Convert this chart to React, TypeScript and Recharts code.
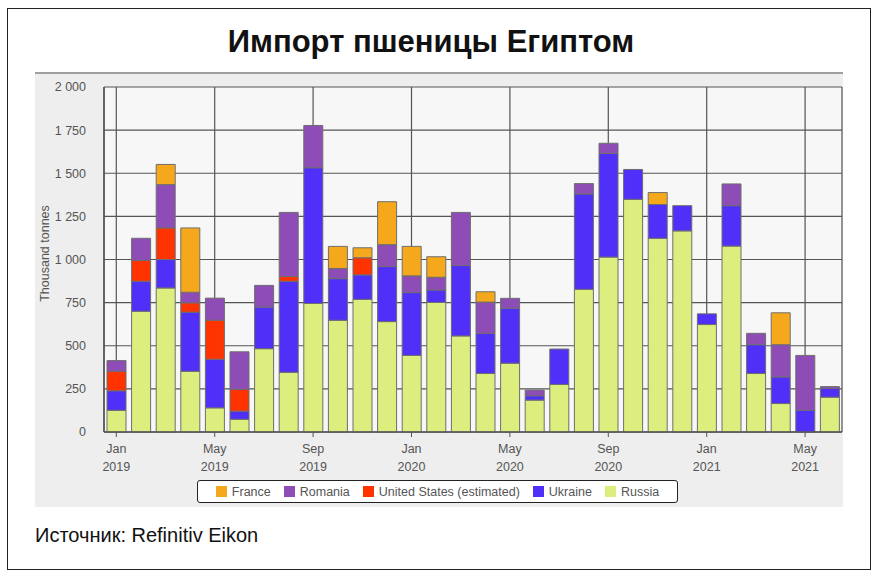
import { BarChart, Bar, XAxis, YAxis, CartesianGrid, Legend } from 'recharts';

const months = [
  'Jan 2019', 'Feb 2019', 'Mar 2019', 'Apr 2019', 'May 2019', 'Jun 2019',
  'Jul 2019', 'Aug 2019', 'Sep 2019', 'Oct 2019', 'Nov 2019', 'Dec 2019',
  'Jan 2020', 'Feb 2020', 'Mar 2020', 'Apr 2020', 'May 2020', 'Jun 2020',
  'Jul 2020', 'Aug 2020', 'Sep 2020', 'Oct 2020', 'Nov 2020', 'Dec 2020',
  'Jan 2021', 'Feb 2021', 'Mar 2021', 'Apr 2021', 'May 2021', 'Jun 2021',
];

const russia = [126, 700, 835, 352, 140, 74, 483, 346, 745, 648, 769, 640, 444, 751, 557, 339, 399, 185, 276, 827, 1014, 1349, 1123, 1166, 623, 1078, 339, 165, 0, 202];
const ukraine = [113, 174, 165, 343, 282, 47, 241, 528, 787, 241, 142, 319, 364, 72, 408, 233, 319, 25, 205, 553, 601, 173, 196, 146, 62, 234, 167, 154, 126, 51];
const unitedStates = [113, 120, 183, 54, 226, 126, 0, 27, 0, 0, 99, 0, 0, 0, 0, 0, 0, 0, 0, 0, 0, 0, 0, 0, 0, 0, 0, 0, 0, 0];
const romania = [62, 129, 251, 61, 128, 218, 126, 372, 245, 59, 0, 127, 97, 74, 308, 181, 57, 33, 0, 60, 59, 0, 0, 0, 0, 126, 66, 187, 318, 10];
const france = [0, 0, 117, 373, 0, 0, 0, 0, 0, 128, 58, 249, 171, 119, 0, 60, 0, 0, 0, 0, 0, 0, 69, 0, 0, 0, 0, 185, 0, 0];

const yTicks = [0, 250, 500, 750, 1000, 1250, 1500, 1750, 2000];

// stacking order, bottom to top
const series = [
  { key: 'russia', name: 'Russia', color: '#DDEE7E' },
  { key: 'ukraine', name: 'Ukraine', color: '#5030F8' },
  { key: 'us', name: 'United States (estimated)', color: '#FF3300' },
  { key: 'romania', name: 'Romania', color: '#8E4CB6' },
  { key: 'france', name: 'France', color: '#F5A81C' },
];

const data = months.map((month, i) => ({
  month,
  russia: russia[i],
  ukraine: ukraine[i],
  us: unitedStates[i],
  romania: romania[i],
  france: france[i],
}));

const FONT = '"Liberation Sans", Arial, sans-serif';

const formatThousands = (v: number) => String(v).replace(/\B(?=(\d{3})+(?!\d))/g, ' ');

function MonthTick({ x, y, payload }: any) {
  const [m, yr] = String(payload.value).split(' ');
  return (
    <g transform={`translate(${x},${y})`}>
      <text textAnchor="middle" fill="#555" fontSize={12.5} fontFamily={FONT}>
        <tspan x={0} dy={14}>{m}</tspan>
        <tspan x={0} dy={18}>{yr}</tspan>
      </text>
    </g>
  );
}

function LegendBox() {
  // legend reads top to bottom of the stack
  const items = [...series].reverse();
  return (
    <div
      style={{
        boxSizing: 'border-box',
        height: 23,
        border: '1.5px solid #222',
        borderRadius: 3,
        background: '#fff',
        display: 'flex',
        alignItems: 'center',
        justifyContent: 'center',
        gap: 13,
        fontFamily: FONT,
        fontSize: 12.5,
        color: '#555',
      }}
    >
      {items.map((s) => (
        <div key={s.key} style={{ display: 'flex', alignItems: 'center', gap: 5 }}>
          <span style={{ width: 11, height: 11, background: s.color, display: 'inline-block' }} />
          <span>{s.name}</span>
        </div>
      ))}
    </div>
  );
}

export default function App() {
  return (
    <div style={{ position: 'absolute', left: 0, top: 0, width: 876, height: 578, background: '#fff', fontFamily: FONT }}>
      {/* frame */}
      <div
        style={{
          position: 'absolute',
          left: 7,
          top: 8,
          width: 864,
          height: 562,
          border: '1.5px solid #222',
          boxSizing: 'border-box',
        }}
      />
      <div
        style={{
          position: 'absolute',
          left: 0,
          width: 862,
          top: 24,
          textAlign: 'center',
          fontSize: 31,
          fontWeight: 'bold',
          color: '#111',
        }}
      >
        Импорт пшеницы Египтом
      </div>

      {/* grey panel behind the chart */}
      <div
        style={{
          position: 'absolute',
          left: 35,
          top: 72,
          width: 808,
          height: 435,
          background: '#EEEEEE',
          borderTop: '2px solid #A0A0A0',
          boxSizing: 'border-box',
        }}
      />

      <div style={{ position: 'absolute', left: 35, top: 72 }}>
        <BarChart
          width={808}
          height={435}
          data={data}
          margin={{ top: 15, right: 1, bottom: 35, left: 0 }}
          barSize={19}
        >
          <CartesianGrid fill="#F7F7F7" stroke="#555" strokeWidth={1.2} />
          <XAxis
            dataKey="month"
            interval={3}
            height={40}
            tick={<MonthTick />}
            tickSize={5}
            stroke="#555"
            tickLine={{ stroke: '#555' }}
            axisLine={{ stroke: '#555', strokeWidth: 1.5 }}
          />
          <YAxis
            width={69}
            domain={[0, 2000]}
            ticks={yTicks}
            tickFormatter={formatThousands}
            tickLine={false}
            axisLine={{ stroke: '#555', strokeWidth: 1.5 }}
            tickMargin={12}
            tick={{ fill: '#555', fontSize: 12.5, fontFamily: FONT }}
            label={{
              value: 'Thousand tonnes',
              angle: -90,
              position: 'insideLeft',
              dx: 5,
              dy: -6,
              style: { textAnchor: 'middle', fill: '#555', fontSize: 12.5, fontFamily: FONT },
            }}
          />
          <Legend
            layout="horizontal"
            verticalAlign="middle"
            align="center"
            content={() => <LegendBox />}
            wrapperStyle={{ left: 162, top: 408, width: 481, height: 23 }}
          />
          {series.map((s) => (
            <Bar
              key={s.key}
              dataKey={s.key}
              name={s.name}
              stackId="a"
              fill={s.color}
              stroke="#6E6E6E"
              strokeWidth={1}
              isAnimationActive={false}
            />
          ))}
        </BarChart>
      </div>

      <div style={{ position: 'absolute', left: 35, top: 524, fontSize: 20, color: '#111' }}>
        Источник: Refinitiv Eikon
      </div>
    </div>
  );
}
